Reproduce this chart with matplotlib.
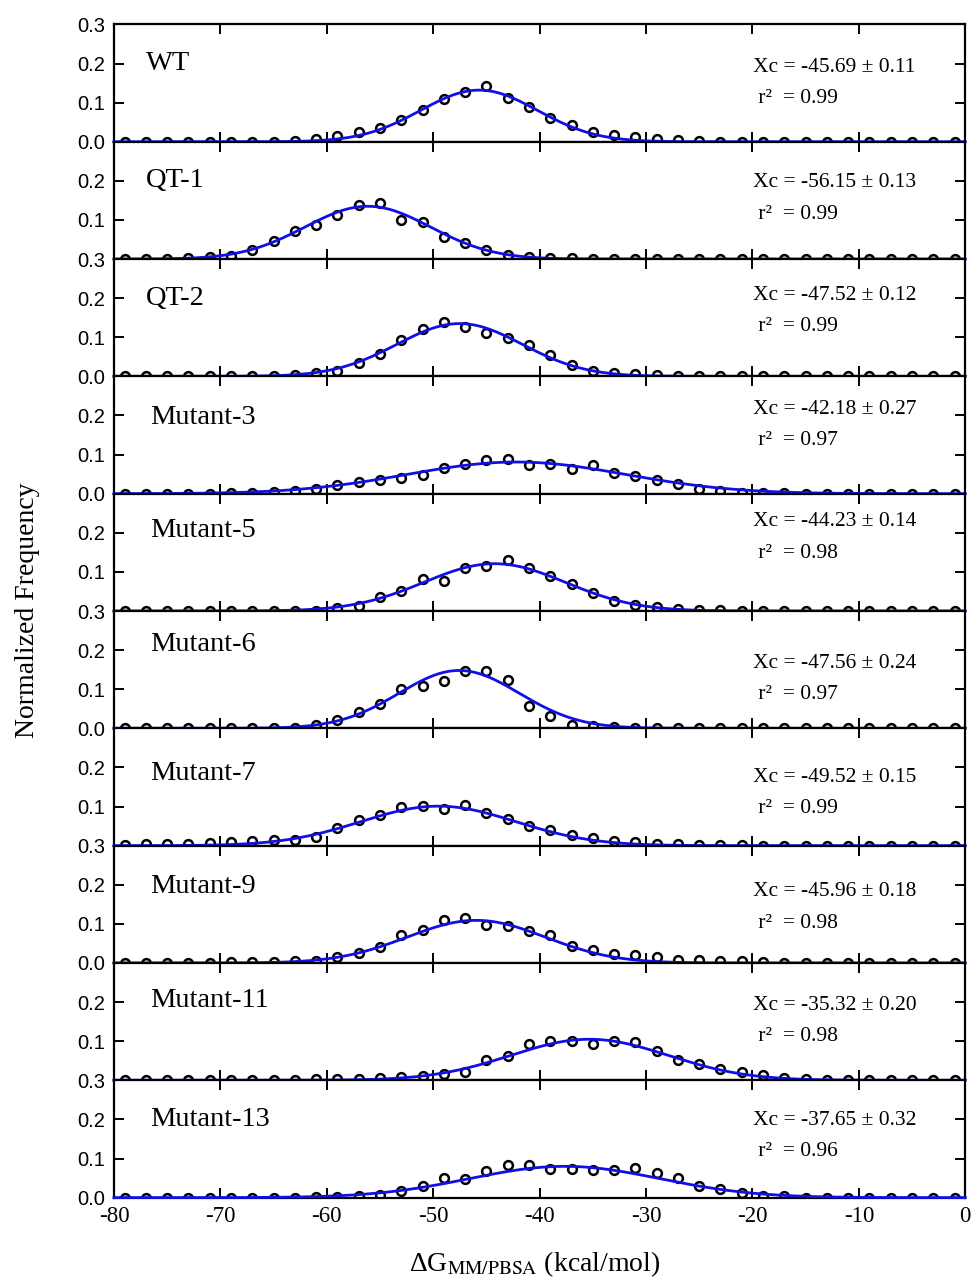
import numpy as np
import matplotlib
matplotlib.use("Agg")
import matplotlib.pyplot as plt

plt.rcParams['font.family'] = ['Liberation Serif', 'DejaVu Serif']
plt.rcParams['mathtext.fontset'] = 'stix'

# Centros de los intervalos (kcal/mol)
x = np.arange(-79, 0, 2)

names = ['WT', 'QT-1', 'QT-2', 'Mutant-3', 'Mutant-5', 'Mutant-6',
         'Mutant-7', 'Mutant-9', 'Mutant-11', 'Mutant-13']

wt = [0] * 8 + [0.003, 0.008, 0.014, 0.024, 0.036, 0.056, 0.082, 0.110, 0.128, 0.142,
                0.112, 0.088, 0.060, 0.042, 0.026, 0.017, 0.011, 0.008, 0.004, 0.002] + [0] * 12
qt1 = [0, 0, 0, 0.002, 0.004, 0.009, 0.022, 0.045, 0.071, 0.088, 0.113, 0.137, 0.144,
       0.101, 0.094, 0.057, 0.040, 0.023, 0.011, 0.005, 0.003, 0.002] + [0] * 18
qt2 = [0] * 5 + [0.002, 0.002, 0.002, 0.004, 0.009, 0.015, 0.035, 0.056, 0.094, 0.120,
                 0.138, 0.126, 0.112, 0.098, 0.081, 0.054, 0.028, 0.015, 0.009, 0.005,
                 0.003] + [0] * 14
m3 = [0] * 5 + [0.001, 0.002, 0.004, 0.007, 0.012, 0.023, 0.031, 0.034, 0.040, 0.049,
                0.065, 0.075, 0.086, 0.090, 0.073, 0.077, 0.062, 0.073, 0.053, 0.045,
                0.036, 0.026, 0.013, 0.006, 0.003, 0.002, 0.001] + [0] * 8
m5 = [0] * 10 + [0.008, 0.014, 0.035, 0.050, 0.082, 0.078, 0.109, 0.114, 0.131, 0.109,
                 0.090, 0.068, 0.045, 0.026, 0.015, 0.009, 0.004, 0.003, 0.002, 0.001] + [0] * 10
m6 = [0] * 9 + [0.009, 0.021, 0.043, 0.062, 0.100, 0.109, 0.121, 0.147, 0.147, 0.124,
                0.058, 0.032, 0.009, 0.005, 0.003, 0.002] + [0] * 15
m7 = [0.002, 0.003, 0.003, 0.004, 0.006, 0.009, 0.013, 0.015, 0.015, 0.021, 0.044, 0.065,
      0.078, 0.098, 0.101, 0.094, 0.103, 0.084, 0.067, 0.050, 0.041, 0.028, 0.020, 0.013,
      0.009, 0.004, 0.003, 0.002, 0.001, 0.001] + [0] * 10
m9 = [0.001] * 5 + [0.002, 0.002, 0.003, 0.004, 0.006, 0.015, 0.026, 0.040, 0.071, 0.084,
                    0.109, 0.115, 0.098, 0.094, 0.081, 0.071, 0.044, 0.032, 0.023, 0.020,
                    0.015, 0.008, 0.008, 0.006, 0.004, 0.003, 0.001] + [0] * 8
m11 = [0.001] * 9 + [0.003, 0.004, 0.004, 0.007, 0.009, 0.011, 0.015, 0.021, 0.051, 0.062,
                     0.092, 0.101, 0.101, 0.092, 0.101, 0.097, 0.075, 0.051, 0.041, 0.028,
                     0.021, 0.014, 0.007, 0.003, 0.002] + [0] * 6
m13 = [0] * 9 + [0.002, 0.002, 0.003, 0.006, 0.016, 0.030, 0.049, 0.047, 0.068, 0.083,
                 0.083, 0.072, 0.072, 0.070, 0.070, 0.077, 0.063, 0.049, 0.030, 0.021,
                 0.013, 0.005, 0.003] + [0] * 8
freqs = [wt, qt1, qt2, m3, m5, m6, m7, m9, m11, m13]

# Parámetros del ajuste gaussiano
fit_xc = [-45.69, -56.15, -47.52, -42.18, -44.23, -47.56, -49.52, -45.96, -35.32, -37.65]
fit_err = ['0.11', '0.13', '0.12', '0.27', '0.14', '0.24', '0.15', '0.18', '0.20', '0.32']
fit_r2 = ['0.99', '0.99', '0.99', '0.97', '0.98', '0.97', '0.99', '0.98', '0.98', '0.96']
fit_height = [0.132, 0.135, 0.135, 0.081, 0.121, 0.148, 0.101, 0.109, 0.105, 0.080]
fit_sigma = [5.5, 5.9, 5.9, 10.3, 6.65, 5.65, 7.3, 6.5, 7.4, 8.95]

# posiciones verticales de los textos en cada panel
name_y = [0.20, 0.20, 0.20, 0.195, 0.205, 0.215, 0.185, 0.195, 0.205, 0.20]
xc_y = [0.19, 0.195, 0.208, 0.215, 0.228, 0.167, 0.174, 0.182, 0.192, 0.197]
# paneles cuyo "0.3" superior queda visible
top_label = [0, 2, 5, 7, 9]

fig, axes = plt.subplots(10, 1, figsize=(9.74, 12.85), dpi=100, sharex=True)
fig.subplots_adjust(left=0.117, right=0.991, bottom=0.068, top=0.981, hspace=0)

xf = np.linspace(-80, 0, 400)
for i, ax in enumerate(axes):
    ax.plot(x, freqs[i], 'o', mfc='none', mec='black', ms=6.3, mew=1.8, zorder=2)
    yf = fit_height[i] * np.exp(-(xf - fit_xc[i]) ** 2 / (2 * fit_sigma[i] ** 2))
    ax.plot(xf, yf, color='#0f0fe6', lw=2.0, zorder=3, clip_on=False)

    ax.set_xlim(-80, 0)
    ax.set_ylim(0, 0.3)
    ax.set_yticks([0, 0.1, 0.2, 0.3])
    labs = ['0.0', '0.1', '0.2', '0.3']
    if i not in top_label:
        labs[3] = ''
    if (i + 1) in top_label:
        labs[0] = ''
    ax.set_yticklabels(labs, family='Liberation Sans', fontsize=14.5)
    ax.set_xticks(np.arange(-80, 1, 10))
    ax.tick_params(direction='in', top=True, right=True, length=7, width=1.4)
    ax.tick_params(axis='y', pad=6)
    for s in ax.spines.values():
        s.set_linewidth(1.6)

    name_x = -77.0 if i < 3 else -76.6
    ax.text(name_x, name_y[i], names[i], fontsize=20.5, va='center', ha='left')
    ax.text(-19.9, xc_y[i], 'Xc = %.2f \u00b1 %s' % (fit_xc[i], fit_err[i]),
            fontsize=15.5, va='center', ha='left')
    ax.text(-19.9, xc_y[i] - 0.08, ' r\u00b2  = %s' % fit_r2[i],
            fontsize=15.5, va='center', ha='left')

axes[-1].set_xticklabels([str(v) for v in range(-80, 1, 10)], fontsize=16.5)
axes[-1].tick_params(axis='x', pad=6)
fig.text(0.028, 0.525, 'Normalized Frequency', rotation=90, fontsize=20,
         ha='center', va='center')
fig.text(0.549, 0.016, 'ΔG$_{\\mathrm{MM/PBSA}}$ (kcal/mol)', fontsize=20,
         ha='center', va='center')

fig.savefig('out.png', dpi=100)
